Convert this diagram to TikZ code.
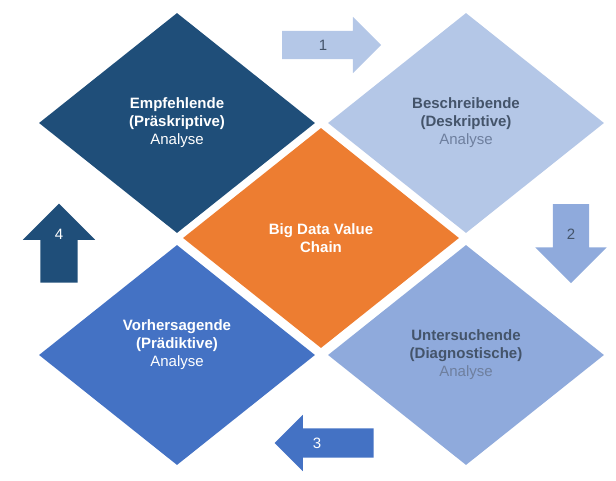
\documentclass[tikz,border=0pt]{standalone}
\usepackage{fontspec}
\setmainfont{Liberation Sans}
\usetikzlibrary{shapes.geometric,shapes.arrows}
\definecolor{navy}{HTML}{1F4E79}
\definecolor{midblue}{HTML}{4472C4}
\definecolor{paleblue}{HTML}{8FAADC}
\definecolor{lightblue}{HTML}{B4C7E7}
\definecolor{chainorange}{HTML}{ED7D31}
\definecolor{darktext}{HTML}{44546A}
\definecolor{greytext}{HTML}{6E7F9E}
\tikzset{
  diam/.style={diamond, minimum width=276pt, minimum height=220pt, inner sep=0pt,
    align=center, text=white, font=\fontsize{15}{18}\selectfont},
  blockarrow/.style={single arrow, single arrow head indent=0pt,
    font=\fontsize{15}{18}\selectfont}
}
\begin{document}
\begin{tikzpicture}[x=1pt,y=-1pt]
  \useasboundingbox (0,0) rectangle (616,480);
  \node[diam, fill=navy] (presc) at (177,123)
    {\textbf{Empfehlende}\\\textbf{(Präskriptive)}\\Analyse};
  \node[diam, fill=lightblue, text=darktext] (descr) at (466,123)
    {\textbf{Beschreibende}\\\textbf{(Deskriptive)}\\\textcolor{greytext}{Analyse}};
  \node[diam, fill=chainorange] (chain) at (321,238)
    {\textbf{Big Data Value}\\\textbf{Chain}};
  \node[diam, fill=midblue] (pred) at (177,355) {};
  \node[diam, fill=none, minimum width=0pt, minimum height=0pt] (predtext) at ([yshift=10pt]pred.center)
    {\textbf{Vorhersagende}\\\textbf{(Prädiktive)}\\Analyse};
  \node[diam, fill=paleblue, text=darktext] (diag) at (466,355)
    {\textbf{Untersuchende}\\\textbf{(Diagnostische)}\\\textcolor{greytext}{Analyse}};
  \begin{scope}[blockarrow]
    \node[fill=lightblue, inner sep=14pt, minimum height=99pt, single arrow head extend=14pt,
      label={[xshift=-1.5pt,text=darktext,font=\fontsize{15}{18}\selectfont]center:1}] (one) at (324.5,45) {};
    \node[fill=paleblue, shape border rotate=270, inner sep=18pt, minimum height=79pt,
      single arrow head extend=17.5pt,
      label={[text=darktext,font=\fontsize{15}{18}\selectfont]center:2}] (two) at (571,234.5) {};
    \node[fill=midblue, shape border rotate=180, inner sep=14.5pt, minimum height=99pt,
      single arrow head extend=13.5pt,
      label={[xshift=-14.5pt,text=white,font=\fontsize{15}{18}\selectfont]center:3}] (three) at (331.5,443) {};
    \node[fill=navy, shape border rotate=90, inner sep=18.5pt, minimum height=79pt,
      single arrow head extend=17.5pt,
      label={[yshift=18.5pt,text=white,font=\fontsize{15}{18}\selectfont]center:4}] (four) at (59,252.5) {};
  \end{scope}
\end{tikzpicture}
\end{document}
